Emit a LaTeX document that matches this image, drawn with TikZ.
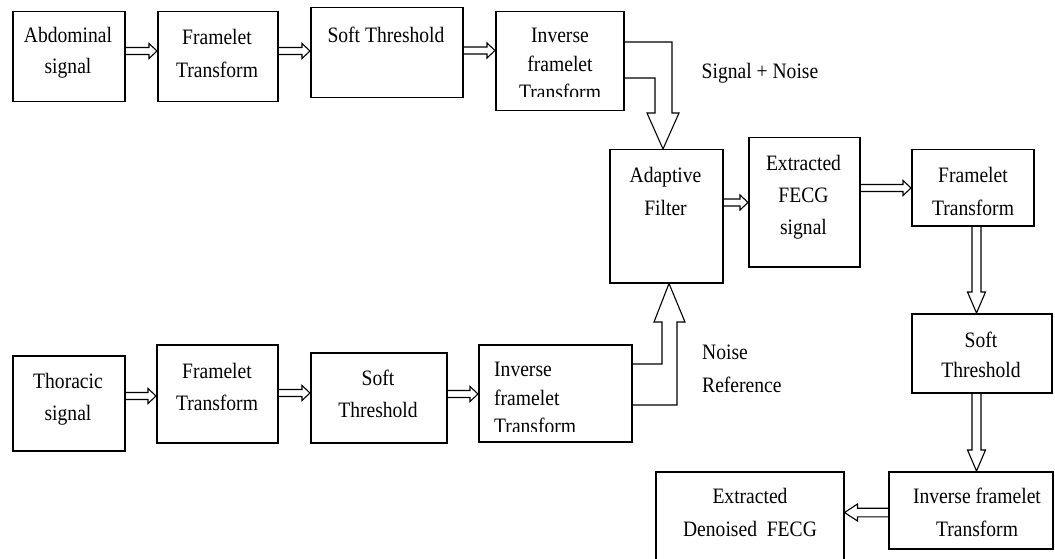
\documentclass[tikz,border=0pt]{standalone}
\usepackage{fontspec}
\setmainfont{Liberation Serif}[FakeStretch=0.89]
\usetikzlibrary{calc}

\tikzset{
  box/.style={draw, line width=1.5pt, anchor=north west, inner sep=0pt},
  txt/.style={inner sep=0pt, anchor=north, align=center, font=\fontsize{22}{31}\selectfont},
  hollow/.style n args={3}{line width=1.1pt, line join=miter, to path={
      let \p1=(\tikztostart), \p2=(\tikztotarget),
          \n1={veclen(\x2-\x1,\y2-\y1)},
          \n2={(\x2-\x1)/\n1}, \n3={(\y2-\y1)/\n1} in
      ({\x1-#1*\n3},{\y1+#1*\n2})
      -- ({\x2-#3*\n2-#1*\n3},{\y2-#3*\n3+#1*\n2})
      -- ({\x2-#3*\n2-#2*\n3},{\y2-#3*\n3+#2*\n2})
      -- (\tikztotarget)
      -- ({\x2-#3*\n2+#2*\n3},{\y2-#3*\n3-#2*\n2})
      -- ({\x2-#3*\n2+#1*\n3},{\y2-#3*\n3-#1*\n2})
      -- ({\x1+#1*\n3},{\y1-#1*\n2})}},
  harr/.style={hollow={3.5}{7.5}{8}},
  varr/.style={hollow={4.5}{9}{21}},
  bigarr/.style={line width=1.1pt, line join=miter},
}

\begin{document}
\begin{tikzpicture}[x=1pt, y=-1pt]
  \useasboundingbox (0,0) rectangle (1055,559);

  %% upper chain
  \node[box, minimum width=112, minimum height=90] (abd) at (12,11) {};
  \node[box, minimum width=120, minimum height=90] (frm1) at (157,11) {};
  \node[box, minimum width=152, minimum height=90] (soft1) at (310,7) {};
  \node[box, minimum width=128, minimum height=99] (inv1) at (495,11) {};

  \node[txt] (abd-t) at (68,27) {Abdominal\\signal};
  \node[txt, font=\fontsize{22}{33}\selectfont] (frm1-t) at (217,29) {Framelet\\Transform};
  \node[txt] (soft1-t) at (386,27) {Soft Threshold};
  \begin{scope}
    \clip (inv1.north west) rectangle (623,97);
    \node[txt, font=\fontsize{22}{28.5}\selectfont] (inv1-t) at (560,28) {Inverse\\framelet\\Transform};
  \end{scope}

  %% lower chain
  \node[box, minimum width=112, minimum height=95] (thor) at (12,355) {};
  \node[box, minimum width=121, minimum height=98] (frm2) at (156,344) {};
  \node[box, minimum width=136, minimum height=90] (soft2) at (310,352) {};
  \node[box, minimum width=153, minimum height=97] (inv2) at (478,344) {};

  \node[txt, font=\fontsize{22}{32}\selectfont] (thor-t) at (68,373) {Thoracic\\signal};
  \node[txt, font=\fontsize{22}{32}\selectfont] (frm2-t) at (217,363) {Framelet\\Transform};
  \node[txt, font=\fontsize{22}{32}\selectfont] (soft2-t) at (378,370) {Soft\\Threshold};
  \begin{scope}
    \clip (inv2.north west) rectangle (631,431.5);
    \node[txt, anchor=north west, align=left, font=\fontsize{22}{28.5}\selectfont] (inv2-t) at (494,362) {Inverse\\framelet\\Transform};
  \end{scope}

  %% filter and output chain
  \node[box, minimum width=113, minimum height=133] (adapt) at (609,149) {};
  \node[box, minimum width=111, minimum height=129] (fecg) at (748,137) {};
  \node[box, minimum width=122, minimum height=76] (frm3) at (911,149) {};
  \node[box, minimum width=140, minimum height=79] (soft3) at (911,313) {};
  \node[box, minimum width=164, minimum height=77] (inv3) at (888,471) {};
  \node[box, minimum width=188, minimum height=110] (out) at (655,471) {};

  \node[txt, font=\fontsize{22}{33}\selectfont] (adapt-t) at (665.5,167) {Adaptive\\Filter};
  \node[txt, font=\fontsize{22}{32}\selectfont] (fecg-t) at (803.5,155) {Extracted\\FECG\\signal};
  \node[txt, font=\fontsize{22}{33}\selectfont] (frm3-t) at (973,167) {Framelet\\Transform};
  \node[txt, font=\fontsize{22}{30}\selectfont] (soft3-t) at (981,332) {Soft\\Threshold};
  \node[txt, font=\fontsize{22}{33}\selectfont] (inv3-t) at (977,488) {Inverse framelet\\Transform};
  \node[txt, font=\fontsize{22}{33}\selectfont] (out-t) at (750,488) {Extracted\\Denoised~~FECG};

  %% side labels
  \node[txt] (sn) at (760,63) {Signal + Noise};
  \node[txt, anchor=north west, align=left, font=\fontsize{22}{33}\selectfont] (nr) at (702,345) {Noise\\Reference};

  %% small hollow arrows
  \draw[harr] (abd.east |- 0,51) to (frm1.west |- 0,51);
  \draw[harr] (frm1.east |- 0,51) to (soft1.west |- 0,51);
  \draw[harr] (soft1.east |- 0,50.5) to (inv1.west |- 0,50.5);
  \draw[harr] (thor.east |- 0,396) to (frm2.west |- 0,396);
  \draw[harr] (frm2.east |- 0,393) to (soft2.west |- 0,393);
  \draw[harr] (soft2.east |- 0,394) to (inv2.west |- 0,394);
  \draw[harr] (adapt.east |- 0,202.5) to (fecg.west |- 0,202.5);
  \draw[harr] (fecg.east |- 0,188) to (frm3.west |- 0,188);
  \draw[varr] (frm3.south -| 976.5,0) to (soft3.north -| 976.5,0);
  \draw[varr] (soft3.south -| 976.5,0) to (inv3.north -| 976.5,0);
  \draw[hollow={4.3}{8.5}{13}] (inv3.west |- 0,512.5) to (out.east |- 0,512.5);

  %% big bent arrows into the filter
  \draw[bigarr] (inv1.east |- 0,42) -| (672,113) -- (679,113) -- (663,0 |- adapt.north)
    -- (647,113) -- (655,113) |- (inv1.east |- 0,78);
  \draw[bigarr] (inv2.east |- 0,364) -| (662,322) -- (654,322) -- (669,0 |- adapt.south)
    -- (685,322) -- (677,322) |- (inv2.east |- 0,405);
\end{tikzpicture}
\end{document}
